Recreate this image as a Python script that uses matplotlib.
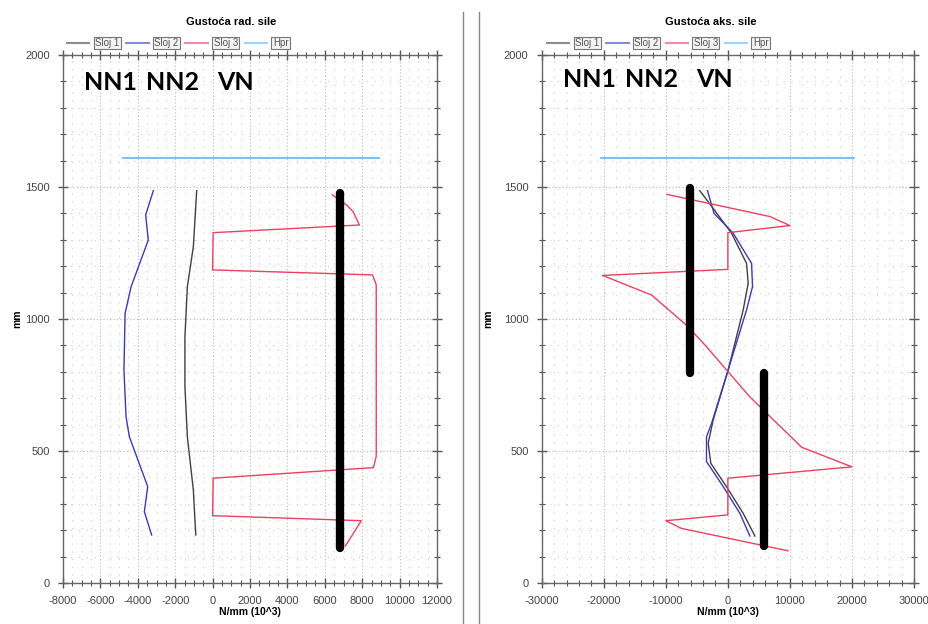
import matplotlib.pyplot as plt
from matplotlib.ticker import MultipleLocator

plt.rcParams['font.family'] = ['Liberation Sans', 'DejaVu Sans']
plt.rcParams['axes.unicode_minus'] = False

# ---------------------------
# Gustoca rad. sile (left panel)
# ---------------------------
rad_sloj1_x = [-850, -1030, -1350, -1480, -1480, -1350, -1030, -900]
rad_sloj1_y = [1486, 1274, 1122, 933, 744, 554, 352, 182]

rad_sloj2_x = [-3170, -3580, -3440, -4360, -4680, -4740, -4630, -4450, -3470, -3650, -3260]
rad_sloj2_y = [1486, 1394, 1299, 1122, 1021, 807, 630, 554, 365, 270, 182]

rad_sloj3_x = [6400, 7200, 7520, 7850, 30, 0, 8550, 8750, 8750, 8600, 30, 0, 7950, 7100]
rad_sloj3_y = [1470, 1430, 1406, 1356, 1327, 1186, 1167, 1130, 480, 437, 397, 255, 236, 140]

rad_hpr_x = [-4800, 8900]
rad_hpr_y = [1610, 1610]

rad_bar_x = [6800, 6800]
rad_bar_y = [131, 1476]

# ---------------------------
# Gustoca aks. sile (right panel)
# ---------------------------
aks_sloj1_x = [-4520, -2370, 590, 3010, 3280, 2470, 50, -2370, -3170, -2740, -220, 2470, 4360]
aks_sloj1_y = [1486, 1419, 1325, 1211, 1135, 1034, 807, 617, 529, 453, 365, 264, 178]

aks_sloj2_x = [-3280, -2220, 860, 3820, 3980, 3010, 50, -2630, -3440, -3440, -750, 1940, 3550]
aks_sloj2_y = [1486, 1400, 1325, 1211, 1123, 1034, 807, 604, 554, 460, 365, 264, 178]

aks_sloj3_x = [-9800, 6800, 10000, 0, 0, -20200, -12300, -6700, -3700, 3500, 11900, 20000,
               0, 0, -10000, -7500, 9700]
aks_sloj3_y = [1472, 1388, 1354, 1327, 1188, 1165, 1091, 977, 902, 706, 514, 440,
               397, 258, 236, 207, 122]

aks_hpr_x = [-20400, 20300]
aks_hpr_y = [1610, 1610]

aks_bar1_x = [-6100, -6100]
aks_bar1_y = [797, 1495]
aks_bar2_x = [5900, 5900]
aks_bar2_y = [140, 797]

layer_labels = ['Sloj 1', 'Sloj 2', 'Sloj 3', 'Hpr']
layer_colors = ['#404040', '#3b3bb3', '#e8425f', '#5fb4ff']
zone_labels = ['NN1', 'NN2', 'VN']

fig = plt.figure(figsize=(9.29, 6.24), dpi=100)
W, H = 929, 624


def px(x, y):
    return x / W, 1 - y / H


def style_axes(ax, xlim, xmaj, xmin):
    ax.set_xlim(*xlim)
    ax.set_ylim(0, 2000)
    ax.xaxis.set_major_locator(MultipleLocator(xmaj))
    ax.xaxis.set_minor_locator(MultipleLocator(xmin))
    ax.yaxis.set_major_locator(MultipleLocator(500))
    ax.yaxis.set_minor_locator(MultipleLocator(100))
    ax.tick_params(which='both', direction='inout', colors='#555555', labelcolor='#444444',
                   labelsize=8, top=True, right=True)
    ax.tick_params(which='major', length=7, width=1, pad=6)
    ax.tick_params(which='minor', length=4, width=0.8)
    ax.grid(which='major', linestyle=(0, (1, 2)), color='#bbbbbb', linewidth=0.8)
    ax.grid(which='minor', linestyle=(0, (1, 6)), color='#cccccc', linewidth=0.8)
    for s in ax.spines.values():
        s.set_color('#666666')
        s.set_linewidth(1.0)
    ax.set_xlabel('N/mm (10^3)', fontsize=7.5, fontweight='bold')
    ax.set_ylabel('mm', fontsize=7.5, fontweight='bold')
    ax.xaxis.set_label_coords(0.5, -0.045)


def add_legend(ax, x0):
    leg = ax.legend(layer_labels, loc='center left', bbox_to_anchor=px(x0, 43),
                    bbox_transform=fig.transFigure, ncol=4, frameon=False, fontsize=7,
                    handlelength=2.3, handletextpad=0.6, columnspacing=0.7,
                    borderpad=0, borderaxespad=0)
    for t in leg.get_texts():
        t.set_color('#555555')
        t.set_bbox(dict(boxstyle='square,pad=0.15', fc='#f4f4f4', ec='#777777', lw=0.8))
    for h in leg.get_lines():
        h.set_alpha(0.6)
        h.set_linewidth(1.5)


# left panel
ax1 = fig.add_axes([63 / W, 41 / H, 374 / W, 528 / H])
ax1.plot(rad_sloj1_x, rad_sloj1_y, color=layer_colors[0], lw=1)
ax1.plot(rad_sloj2_x, rad_sloj2_y, color=layer_colors[1], lw=1)
ax1.plot(rad_sloj3_x, rad_sloj3_y, color=layer_colors[2], lw=1)
ax1.plot(rad_hpr_x, rad_hpr_y, color=layer_colors[3], lw=1.2)
ax1.plot(rad_bar_x, rad_bar_y, color='black', lw=6, solid_capstyle='round')
style_axes(ax1, (-8000, 12000), 2000, 500)
ax1.yaxis.set_label_coords(-0.11, 0.5)
add_legend(ax1, 67)

# right panel
ax2 = fig.add_axes([541.7 / W, 41 / H, 372.3 / W, 528 / H])
ax2.plot(aks_sloj1_x, aks_sloj1_y, color=layer_colors[0], lw=1)
ax2.plot(aks_sloj2_x, aks_sloj2_y, color=layer_colors[1], lw=1)
ax2.plot(aks_sloj3_x, aks_sloj3_y, color=layer_colors[2], lw=1)
ax2.plot(aks_hpr_x, aks_hpr_y, color=layer_colors[3], lw=1.2)
ax2.plot(aks_bar1_x, aks_bar1_y, color='black', lw=6, solid_capstyle='round')
ax2.plot(aks_bar2_x, aks_bar2_y, color='black', lw=6, solid_capstyle='round')
style_axes(ax2, (-30000, 30000), 10000, 2000)
ax2.yaxis.set_label_coords(-0.131, 0.5)
add_legend(ax2, 547)

# titles
fig.text(*px(231, 22), 'Gustoća rad. sile', ha='center', va='center', fontsize=8, fontweight='bold')
fig.text(*px(711, 22), 'Gustoća aks. sile', ha='center', va='center', fontsize=8, fontweight='bold')

# zone labels
for lbl, x in zip(zone_labels, [84, 146, 217]):
    fig.text(*px(x, 90), lbl, fontsize=18, fontweight='bold', family=['Lato', 'DejaVu Sans'])
for lbl, x in zip(zone_labels, [563, 625, 696]):
    fig.text(*px(x, 87), lbl, fontsize=18, fontweight='bold', family=['Lato', 'DejaVu Sans'])

# panel separators
for x in [462.7, 479.5]:
    fig.add_artist(plt.Line2D([x / W, x / W], [0, 1 - 12 / H], transform=fig.transFigure,
                              color='#888888', lw=1))

plt.savefig('out.png', dpi=100)
